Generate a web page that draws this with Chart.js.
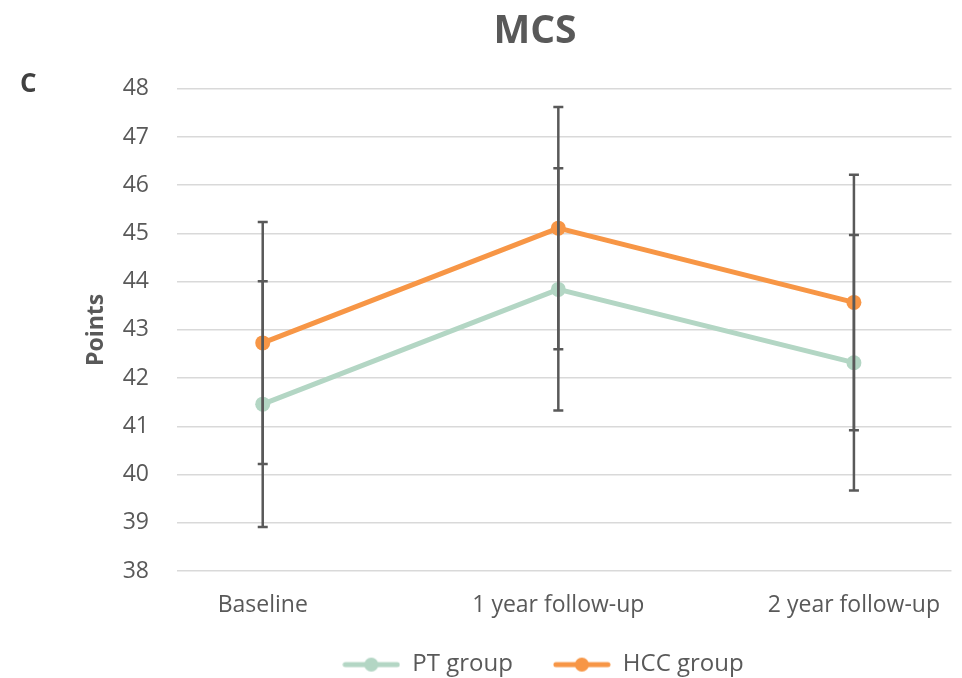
<!DOCTYPE html>
<html>
<head>
<meta charset="utf-8">
<title>MCS</title>
<script src="https://cdn.jsdelivr.net/npm/chart.js@4"></script>
<style>
  html, body { margin: 0; padding: 0; background: #ffffff; overflow: hidden; }
  #wrap { position: relative; width: 962px; height: 678px; }
  #panel {
    position: absolute; left: 20px; top: 69px;
    font: bold 26px 'Open Sans', sans-serif; line-height: 26px; color: #404040;
  }
</style>
</head>
<body>
<div id="wrap">
  <canvas id="chart" width="962" height="678"></canvas>
  <div id="panel">C</div>
</div>
<script>
// Time points on the x axis
const categories = ['Baseline', '1 year follow-up', '2 year follow-up'];

// Mean MCS score and standard deviation per group
const ptMean  = [41.46, 43.84, 42.32];
const ptSD    = [2.55, 2.51, 2.65];
const hccMean = [42.73, 45.11, 43.57];
const hccSD   = [2.51, 2.51, 2.65];

// Y axis ticks
const yTicks = [38, 39, 40, 41, 42, 43, 44, 45, 46, 47, 48];

const PT_COLOR = '#B3D6C4';
const HCC_COLOR = '#F79646';
const TEXT_COLOR = '#595959';

Chart.defaults.font.family = "'Open Sans', sans-serif";
Chart.defaults.color = TEXT_COLOR;

const toPoints = (vals) => vals.map((v, i) => ({ x: i, y: v }));

// Legend icon: short line with a dot in the middle
function legendIcon(color) {
  const c = document.createElement('canvas');
  c.width = 58; c.height = 16;
  const g = c.getContext('2d');
  g.strokeStyle = color; g.lineWidth = 5; g.lineCap = 'round';
  g.beginPath(); g.moveTo(3, 8); g.lineTo(55, 8); g.stroke();
  g.fillStyle = color;
  g.beginPath(); g.arc(29, 8, 7, 0, Math.PI * 2); g.fill();
  return c;
}

// Vertical error bars (mean +/- SD) with caps, drawn over the lines
const errorBars = {
  id: 'errorBars',
  afterDatasetsDraw(chart, args, opts) {
    const { ctx, scales: { x, y } } = chart;
    ctx.save();
    ctx.strokeStyle = opts.color;
    ctx.lineWidth = opts.width;
    chart.data.datasets.forEach((ds) => {
      ds.data.forEach((pt, i) => {
        const sd = ds.errors[i];
        const px = x.getPixelForValue(pt.x);
        const top = y.getPixelForValue(pt.y + sd);
        const bot = y.getPixelForValue(pt.y - sd);
        ctx.beginPath();
        ctx.moveTo(px, top); ctx.lineTo(px, bot);
        ctx.moveTo(px - opts.cap, top); ctx.lineTo(px + opts.cap, top);
        ctx.moveTo(px - opts.cap, bot); ctx.lineTo(px + opts.cap, bot);
        ctx.stroke();
      });
    });
    ctx.restore();
  }
};

// Nudges the title and legend blocks after layout
const boxShift = {
  id: 'boxShift',
  afterLayout(chart, args, opts) {
    const move = (box, d) => {
      if (!box || !d) return;
      box.left += d.dx; box.right += d.dx;
      box.top += d.dy; box.bottom += d.dy;
    };
    move(chart.titleBlock, opts.title);
    move(chart.legend, opts.legend);
  }
};

new Chart(document.getElementById('chart'), {
  type: 'line',
  data: {
    datasets: [
      {
        label: 'PT group',
        data: toPoints(ptMean),
        errors: ptSD,
        borderColor: PT_COLOR,
        backgroundColor: PT_COLOR,
        borderWidth: 5,
        pointRadius: 7.5,
        pointBorderWidth: 0,
        pointHoverRadius: 7.5,
        tension: 0
      },
      {
        label: 'HCC group',
        data: toPoints(hccMean),
        errors: hccSD,
        borderColor: HCC_COLOR,
        backgroundColor: HCC_COLOR,
        borderWidth: 5,
        pointRadius: 7.5,
        pointBorderWidth: 0,
        pointHoverRadius: 7.5,
        tension: 0
      }
    ]
  },
  options: {
    responsive: false,
    animation: false,
    layout: { padding: { left: 0, right: 8, top: 0, bottom: -14.6 } },
    scales: {
      x: {
        type: 'linear',
        min: -0.29,
        max: 2.33,
        afterBuildTicks: (scale) => { scale.ticks = categories.map((_, i) => ({ value: i })); },
        afterFit: (scale) => { scale.height = 47.6; },
        ticks: {
          callback: (v) => categories[v],
          font: { size: 23 },
          color: TEXT_COLOR,
          padding: 21,
          maxRotation: 0,
          autoSkip: false
        },
        grid: { display: false, drawTicks: false },
        border: { display: false }
      },
      y: {
        min: yTicks[0],
        max: yTicks[yTicks.length - 1],
        afterBuildTicks: (scale) => { scale.ticks = yTicks.map((v) => ({ value: v })); },
        afterFit: (scale) => { scale.width = 177; },
        ticks: { font: { size: 23 }, color: TEXT_COLOR, padding: 28 },
        grid: { color: '#D9D9D9', lineWidth: 1.5, drawTicks: false },
        border: { display: false },
        title: {
          display: true,
          text: 'Points',
          font: { size: 23, weight: 'bold' },
          color: TEXT_COLOR,
          padding: { top: 83, bottom: 0 }
        }
      }
    },
    plugins: {
      title: {
        display: true,
        text: 'MCS',
        font: { size: 39, weight: 'bold' },
        color: TEXT_COLOR,
        padding: { top: 8, bottom: 34 }
      },
      legend: {
        position: 'bottom',
        labels: {
          usePointStyle: true,
          pointStyleWidth: 58,
          padding: 40,
          font: { size: 24 },
          color: TEXT_COLOR,
          generateLabels: (chart) => chart.data.datasets.map((ds, i) => ({
            text: ds.label,
            pointStyle: legendIcon(ds.borderColor),
            fillStyle: ds.borderColor,
            strokeStyle: ds.borderColor,
            lineWidth: 0,
            fontColor: TEXT_COLOR,
            datasetIndex: i,
            hidden: false
          }))
        }
      },
      tooltip: { enabled: false },
      errorBars: { color: '#595959', width: 2.5, cap: 5 },
      boxShift: { title: { dx: 58, dy: 0 }, legend: { dx: 66, dy: -6 } }
    }
  },
  plugins: [errorBars, boxShift]
});
</script>
</body>
</html>
